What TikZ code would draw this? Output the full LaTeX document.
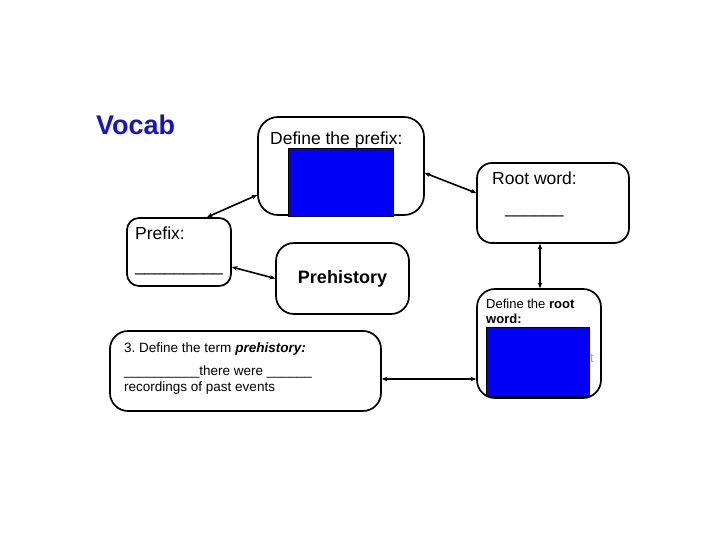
\documentclass[tikz,border=0pt]{standalone}
\usepackage{fontspec}
\setmainfont{Liberation Sans}
\usetikzlibrary{arrows.meta}
\definecolor{vocabblue}{RGB}{20,20,200}
\definecolor{fillblue}{RGB}{0,0,250}
\frenchspacing
\tikzset{
  box/.style={draw=black, line width=1.7pt, fill=white, inner sep=0pt},
  bluebox/.style={draw=black, line width=0.8pt, fill=fillblue, inner sep=0pt},
  txt/.style={inner sep=0pt, anchor=base west},
  conn/.style={line width=1.6pt, {Stealth[length=5.5pt,width=4.5pt]}-{Stealth[length=5.5pt,width=4.5pt]}},
}
\begin{document}
\begin{tikzpicture}[x=1pt,y=1pt]
\useasboundingbox[fill=white] (0,0) rectangle (720,-540);
% title
\node[txt, text=vocabblue, font=\fontsize{27}{30}\selectfont\bfseries] (vocab) at (96,-135) {Vocab};
% boxes
\node[box, rounded corners=20pt, minimum width=166pt, minimum height=98pt] (defprefix) at (341,-166) {};
\node[bluebox, minimum width=105pt, minimum height=68pt] (blue1) at (340.5,-182) {};
\node[txt, font=\fontsize{17.5}{20}\selectfont] (defprefixt) at (270,-145) {Define the prefix:};

\node[box, rounded corners=15pt, minimum width=152pt, minimum height=80pt] (root) at (553,-203) {};
\node[txt, font=\fontsize{17.5}{20}\selectfont] (roott) at (492,-185) {Root word:};
\node[txt, font=\fontsize{17.5}{20}\selectfont] (rootu) at (505,-214) {\_\_\_\_\_\_};

\node[box, rounded corners=12pt, minimum width=104pt, minimum height=68pt] (prefix) at (179,-252) {};
\node[txt, font=\fontsize{17.5}{20}\selectfont] (prefixt) at (135,-240) {Prefix:};
\node[txt, font=\fontsize{17.5}{20}\selectfont] (prefixu) at (135,-271) {\_\_\_\_\_\_\_\_\_};

\node[box, rounded corners=18pt, minimum width=133pt, minimum height=71pt, font=\fontsize{18}{21}\selectfont\bfseries] (prehist) at (342.5,-278.5) {Prehistory};

\node[box, rounded corners=18pt, minimum width=124pt, minimum height=109pt] (defroot) at (539,-343.5) {};
\node[bluebox, minimum width=103pt, minimum height=69pt] (blue2) at (537.5,-361.5) {};
\node[txt, text=black!35, font=\fontsize{13}{15}\selectfont] (hiddent) at (590,-362) {t};
\node[txt, font=\fontsize{13}{15}\selectfont] (defroott1) at (486,-308) {Define the \textbf{root}};
\node[txt, font=\fontsize{13}{15}\selectfont\bfseries] (defroott2) at (486,-323) {word:};

\node[box, rounded corners=18pt, minimum width=271pt, minimum height=80pt] (term) at (245.5,-371) {};
\node[txt, font=\fontsize{13.5}{16}\selectfont] (termt1) at (124,-352) {3. Define the term \textbf{\textit{prehistory:}}};
\node[txt, font=\fontsize{13.5}{16}\selectfont] (termt2) at (124,-375) {\_\_\_\_\_\_\_\_\_\_there were \_\_\_\_\_\_};
\node[txt, font=\fontsize{13.5}{16}\selectfont] (termt3) at (124,-391) {recordings of past events};
% connectors
\draw[conn] ([xshift=28pt]prefix.north) -- ([yshift=-29pt]defprefix.west);
\draw[conn] ([yshift=-7pt]defprefix.east) -- ([yshift=10pt]root.west);
\draw[conn] ([xshift=-13pt]root.south) -- ([xshift=-13pt]root.south |- defroot.north);
\draw[conn] (prehist.west) -- ([yshift=-15pt]prefix.east);
\draw[conn] ([yshift=-8pt]term.east) -- ([yshift=-8pt]term.east -| defroot.west);
\end{tikzpicture}
\end{document}
